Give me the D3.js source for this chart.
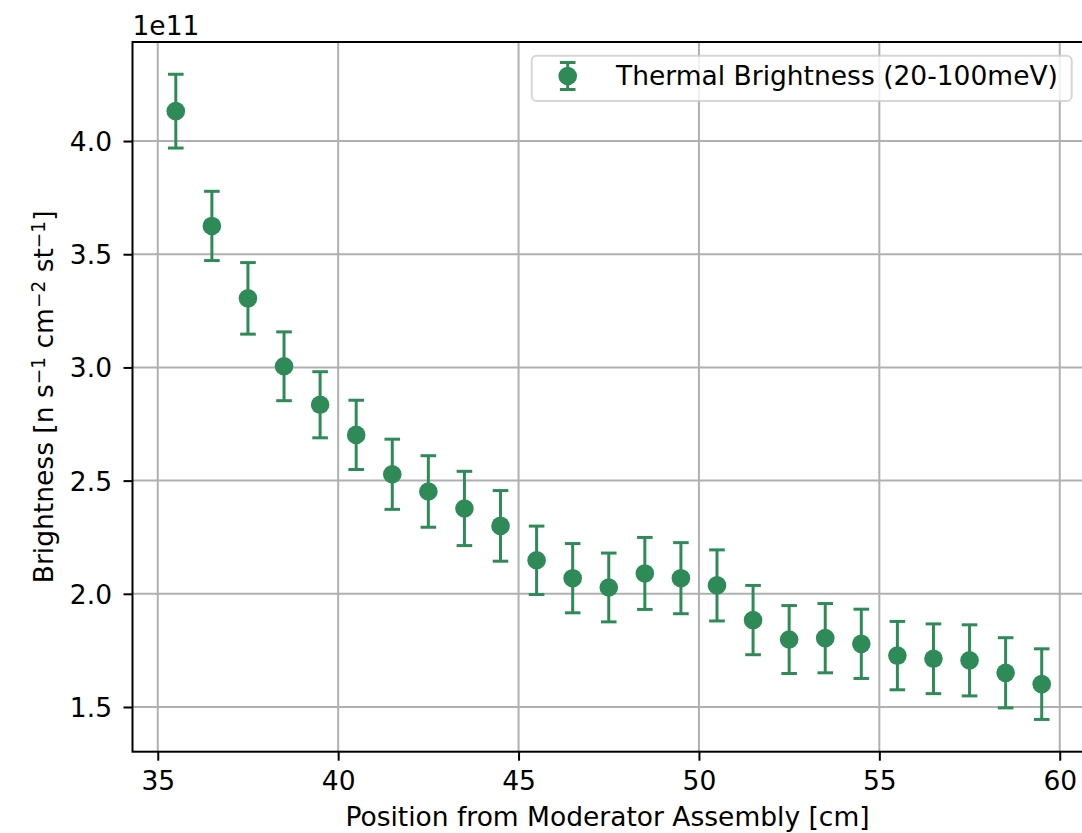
<!DOCTYPE html>
<html>
<head>
<meta charset="utf-8">
<script src="https://cdn.jsdelivr.net/npm/d3@7"></script>
<style>
  html, body { margin: 0; padding: 0; background: #ffffff; }
  svg { display: block; overflow: hidden; }
  text { font-family: "DejaVu Sans", sans-serif; fill: #000; }
</style>
</head>
<body>
<div id="chart"></div>
<script>
// Measurement positions along the beam line [cm]
const positions = [35.5, 36.5, 37.5, 38.5, 39.5, 40.5, 41.5, 42.5, 43.5, 44.5,
                   45.5, 46.5, 47.5, 48.5, 49.5, 50.5, 51.5, 52.5, 53.5, 54.5,
                   55.5, 56.5, 57.5, 58.5, 59.5];
// Thermal brightness, in units of 1e11 n s^-1 cm^-2 st^-1
const brightness = [4.132, 3.625, 3.305, 3.005, 2.835, 2.702, 2.528, 2.452, 2.377, 2.300,
                    2.148, 2.069, 2.028, 2.090, 2.069, 2.037, 1.884, 1.798, 1.804, 1.779,
                    1.727, 1.713, 1.706, 1.651, 1.601];
// One-sigma uncertainty, same units
const uncertainty = [0.163, 0.153, 0.158, 0.152, 0.146, 0.153, 0.155, 0.158, 0.164, 0.156,
                     0.151, 0.153, 0.152, 0.159, 0.157, 0.157, 0.153, 0.150, 0.153, 0.153,
                     0.151, 0.154, 0.157, 0.155, 0.156];
const xTicks = [35, 40, 45, 50, 55, 60];
const yTicks = [1.5, 2.0, 2.5, 3.0, 3.5, 4.0];
const yOffsetLabel = "1e11";
const seriesLabel = "Thermal Brightness (20-100meV)";

const W = 1082, H = 833;
const plot = { left: 132.5, right: 1085, top: 42, bottom: 751.7 };
const color = "#2e8b57";
const fontSize = 26.5;

const svg = d3.select("#chart").append("svg")
  .attr("width", W).attr("height", H)
  .attr("viewBox", `0 0 ${W} ${H}`);

// Autoscaled limits with 5% padding, like matplotlib's default margins
const xMin = d3.min(positions), xMax = d3.max(positions);
const xPad = (xMax - xMin) * 0.05;
const lo = d3.min(brightness, (d, i) => d - uncertainty[i]);
const hi = d3.max(brightness, (d, i) => d + uncertainty[i]);
const yPad = (hi - lo) * 0.05;

const x = d3.scaleLinear().domain([xMin - xPad, xMax + xPad]).range([plot.left, plot.right]);
const y = d3.scaleLinear().domain([lo - yPad, hi + yPad]).range([plot.bottom, plot.top]);

// Grid
const grid = svg.append("g").attr("stroke", "#b0b0b0").attr("stroke-width", 2);
grid.selectAll(".gx").data(xTicks).join("line")
  .attr("x1", d => x(d)).attr("x2", d => x(d))
  .attr("y1", plot.top).attr("y2", plot.bottom);
grid.selectAll(".gy").data(yTicks).join("line")
  .attr("x1", plot.left).attr("x2", plot.right)
  .attr("y1", d => y(d)).attr("y2", d => y(d));

// Error bars and markers
const pts = positions.map((p, i) => ({ p, v: brightness[i], e: uncertainty[i] }));
const marks = svg.append("g");
const capHalf = 7.8;
marks.selectAll(".eb").data(pts).join("line")
  .attr("x1", d => x(d.p)).attr("x2", d => x(d.p))
  .attr("y1", d => y(d.v - d.e)).attr("y2", d => y(d.v + d.e))
  .attr("stroke", color).attr("stroke-width", 3);
marks.selectAll(".capT").data(pts).join("line")
  .attr("x1", d => x(d.p) - capHalf).attr("x2", d => x(d.p) + capHalf)
  .attr("y1", d => y(d.v + d.e)).attr("y2", d => y(d.v + d.e))
  .attr("stroke", color).attr("stroke-width", 3);
marks.selectAll(".capB").data(pts).join("line")
  .attr("x1", d => x(d.p) - capHalf).attr("x2", d => x(d.p) + capHalf)
  .attr("y1", d => y(d.v - d.e)).attr("y2", d => y(d.v - d.e))
  .attr("stroke", color).attr("stroke-width", 3);
marks.selectAll("circle").data(pts).join("circle")
  .attr("cx", d => x(d.p)).attr("cy", d => y(d.v)).attr("r", 9.3)
  .attr("fill", color);

// Axes
const xAxis = svg.append("g").attr("transform", `translate(0,${plot.bottom})`)
  .call(d3.axisBottom(x).tickValues(xTicks).tickFormat(d3.format("d"))
    .tickSize(9).tickPadding(10.5).tickSizeOuter(0));
const yAxis = svg.append("g").attr("transform", `translate(${plot.left},0)`)
  .call(d3.axisLeft(y).tickValues(yTicks).tickFormat(d3.format(".1f"))
    .tickSize(9).tickPadding(11.5).tickSizeOuter(0));
[xAxis, yAxis].forEach(a => {
  a.select(".domain").remove();
  a.selectAll(".tick line").attr("stroke", "#000").attr("stroke-width", 2);
  a.selectAll(".tick text").attr("font-size", fontSize)
    .attr("font-family", "DejaVu Sans").attr("fill", "#000");
});
yAxis.selectAll(".tick text").attr("dy", "0.36em");

// Spines
svg.append("rect")
  .attr("x", plot.left).attr("y", plot.top)
  .attr("width", plot.right - plot.left).attr("height", plot.bottom - plot.top)
  .attr("fill", "none").attr("stroke", "#000").attr("stroke-width", 2);

// Offset multiplier above the y axis
svg.append("text").attr("x", plot.left).attr("y", 34.5)
  .attr("font-size", fontSize).text(yOffsetLabel);

// Axis labels
svg.append("text")
  .attr("x", 607.5).attr("y", 826)
  .attr("text-anchor", "middle").attr("font-size", fontSize)
  .text("Position from Moderator Assembly [cm]");

const yl = svg.append("text")
  .attr("transform", `translate(52.5,${(plot.top + plot.bottom) / 2}) rotate(-90)`)
  .attr("text-anchor", "middle").attr("font-size", fontSize);
const parts = [["Brightness [n s", false], ["\u22121", true], [" cm", false],
               ["\u22122", true], [" st", false], ["\u22121", true], ["]", false]];
parts.forEach(([t, sup]) => {
  const ts = yl.append("tspan").text(t);
  if (sup) ts.attr("font-size", fontSize * 0.7).attr("baseline-shift", "40%");
});

// Legend
const lg = svg.append("g");
lg.append("rect").attr("x", 531.7).attr("y", 55.7).attr("width", 540).attr("height", 45.3)
  .attr("rx", 5).attr("fill", "rgba(255,255,255,0.8)")
  .attr("stroke", "rgba(204,204,204,0.8)").attr("stroke-width", 2);
const lx = 567.7, ly = 76, lh = 13.5;
lg.append("line").attr("x1", lx).attr("x2", lx).attr("y1", ly - lh).attr("y2", ly + lh)
  .attr("stroke", color).attr("stroke-width", 3);
[ly - lh, ly + lh].forEach(cy => lg.append("line")
  .attr("x1", lx - capHalf).attr("x2", lx + capHalf).attr("y1", cy).attr("y2", cy)
  .attr("stroke", color).attr("stroke-width", 3));
lg.append("circle").attr("cx", lx).attr("cy", ly).attr("r", 9.3).attr("fill", color);
lg.append("text").attr("x", 616).attr("y", 85).attr("font-size", fontSize).text(seriesLabel);
</script>
</body>
</html>
